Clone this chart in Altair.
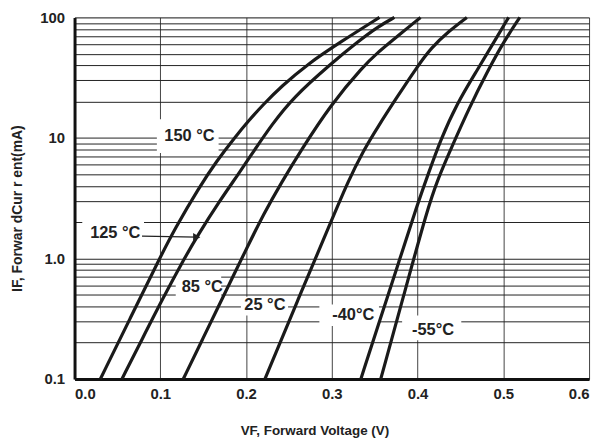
import altair as alt
import pandas as pd

# ---- data ----
series_names = ["150 °C", "125 °C", "85 °C", "25 °C", "-40°C", "-55°C"]

v_150 = [0.0301, 0.0649, 0.0996, 0.117, 0.1448, 0.1656, 0.1865, 0.2027, 0.2201, 0.2409, 0.2722, 0.3104, 0.3556]
i_150 = [0.1, 0.3186, 1.015, 1.762, 3.838, 6.41, 10.02, 13.84, 18.93, 26.65, 41.26, 62.7, 100]

v_125 = [0.0553, 0.0788, 0.1023, 0.1286, 0.1428, 0.1691, 0.1911, 0.2097, 0.2294, 0.2548, 0.2989, 0.3301, 0.3533, 0.373]
i_125 = [0.1, 0.2138, 0.457, 1.015, 1.521, 2.999, 5.009, 7.90, 12.71, 21.63, 41.26, 62.7, 83.3, 100]

v_85 = [0.1268, 0.1493, 0.1718, 0.1999, 0.2212, 0.2409, 0.2641, 0.2989, 0.3371, 0.3533, 0.3672, 0.4035]
i_85 = [0.1, 0.2138, 0.457, 1.182, 2.387, 4.22, 7.90, 18.93, 39.7, 50.8, 61.5, 100]

v_25 = [0.2221, 0.2606, 0.2992, 0.3185, 0.3371, 0.3533, 0.3765, 0.3996, 0.4159, 0.4367, 0.4575]
i_25 = [0.1, 0.457, 2.024, 4.30, 7.90, 12.23, 22.04, 38.97, 55.9, 77.2, 100]

v_m40 = [0.3339, 0.3556, 0.3776, 0.3996, 0.4124, 0.4266, 0.4459, 0.4691, 0.49, 0.5062]
i_m40 = [0.1, 0.301, 0.906, 2.779, 5.009, 9.55, 19.3, 36.1, 63.9, 100]

v_m55 = [0.3571, 0.3842, 0.4112, 0.424, 0.4402, 0.4599, 0.4807, 0.5004, 0.5193]
i_m55 = [0.1, 0.5027, 2.527, 4.64, 8.52, 17.55, 34.8, 62.7, 100]

x_ticks = [0.0, 0.1, 0.2, 0.3, 0.4, 0.5, 0.6]
y_grid = [0.1, 0.2, 0.3, 0.4, 0.5, 0.6, 0.7, 0.8, 0.9,
          1, 2, 3, 4, 5, 6, 7, 8, 9,
          10, 20, 30, 40, 50, 60, 70, 80, 90, 100]

# curve labels (text, anchor voltage, anchor current)
label_text = ["150 °C", "125 °C", "85 °C", "25 °C", "-40°C", "-55°C"]
label_v = [0.134, 0.0475, 0.149, 0.222, 0.325, 0.418]
label_i = [10.4, 1.62, 0.583, 0.414, 0.336, 0.253]

# white label boxes (v1, v2, i1, i2)
box_v1 = [0.096, 0.009, 0.118, 0.194, 0.2855, 0.382]
box_v2 = [0.168, 0.081, 0.171, 0.249, 0.355, 0.451]
box_i1 = [7.5, 1.17, 0.473, 0.336, 0.275, 0.209]
box_i2 = [14.3, 2.07, 0.73, 0.482, 0.414, 0.336]

# arrow from the 125 °C label to its curve
arrow_v = [0.0787, 0.1425]
arrow_i = [1.53, 1.50]

# ---- build tables ----
all_v = [v_150, v_125, v_85, v_25, v_m40, v_m55]
all_i = [i_150, i_125, i_85, i_25, i_m40, i_m55]
rows = []
for name, vs, cs in zip(series_names, all_v, all_i):
    for k, (v, c) in enumerate(zip(vs, cs)):
        rows.append({"series": name, "v": v, "i": c, "k": k})
curves = pd.DataFrame(rows)
labels = pd.DataFrame({"t": label_text, "v": label_v, "i": label_i})
boxes = pd.DataFrame({"v1": box_v1, "v2": box_v2, "i1": box_i1, "i2": box_i2})
arrow = pd.DataFrame({"v": [arrow_v[0]], "v2": [arrow_v[1]], "i": [arrow_i[0]], "i2": [arrow_i[1]]})
head = pd.DataFrame({"v": [arrow_v[1]], "i": [arrow_i[1]]})

FONT = "Liberation Sans, Arial, sans-serif"

xscale = alt.Scale(domain=[0, 0.6], nice=False, zero=False)
yscale = alt.Scale(type="log", domain=[0.1, 100], nice=False)

xaxis = alt.Axis(values=x_ticks, format=".1f", grid=True, gridColor="#444", gridWidth=1,
                 ticks=False, tickSize=0, labelPadding=8, labelFont=FONT, labelFontSize=15,
                 labelFontWeight="bold", labelColor="#222", domainColor="#111", domainWidth=3,
                 title="VF, Forward Voltage (V)", titleFont=FONT, titleFontSize=13.5,
                 titleFontWeight="bold", titleColor="#222", titleX=241.5, titleY=52,
                 titleBaseline="middle", titleAlign="center")
yaxis = alt.Axis(values=y_grid,
                 labelExpr="datum.value == 100 ? '100' : datum.value == 10 ? '10' : datum.value == 1 ? '1.0' : datum.value == 0.1 ? '0.1' : ''",
                 labelOverlap=False, grid=True, gridColor="#222", gridWidth=1,
                 ticks=False, tickSize=0, labelPadding=10, labelFont=FONT, labelFontSize=15,
                 labelFontWeight="bold", labelColor="#222", domainColor="#111", domainWidth=3,
                 title="IF, Forwar dCur r ent(mA)", titleFont=FONT, titleFontSize=14,
                 titleFontWeight="bold", titleColor="#222", titleX=-57.5, titleY=192,
                 titleBaseline="middle", titleAlign="center", titleAngle=-90)

base = alt.Chart(curves)

box_layer = alt.Chart(boxes).mark_rect(fill="white").encode(
    x=alt.X("v1:Q", scale=xscale, axis=xaxis),
    x2="v2:Q",
    y=alt.Y("i1:Q", scale=yscale, axis=yaxis),
    y2="i2:Q",
)

lines = base.mark_line(color="#1a1a1a", strokeWidth=3.2, interpolate="basis").encode(
    x=alt.X("v:Q", scale=xscale),
    y=alt.Y("i:Q", scale=yscale),
    detail="series:N",
    order="k:Q",
)

arrow_line = alt.Chart(arrow).mark_rule(color="#222", strokeWidth=1.2).encode(
    x="v:Q", x2="v2:Q", y="i:Q", y2="i2:Q"
)
arrow_head = alt.Chart(head).mark_point(shape="triangle-right", filled=True, color="#222",
                                        size=70, opacity=1).encode(
    x="v:Q", y="i:Q"
)

text_layer = alt.Chart(labels).mark_text(font=FONT, fontSize=16.5, fontWeight="bold",
                                         color="#222", align="center", baseline="middle").encode(
    x="v:Q", y="i:Q", text="t:N"
)

chart = alt.layer(box_layer, lines, arrow_line, arrow_head, text_layer).properties(
    width=518, height=364,
    autosize="none",
    padding={"left": 67, "top": 8, "right": 8, "bottom": 60},
).configure_view(stroke="#555", strokeWidth=1).configure(background="white")

chart.save("out.html", embed_options={"renderer": "svg", "actions": False})
